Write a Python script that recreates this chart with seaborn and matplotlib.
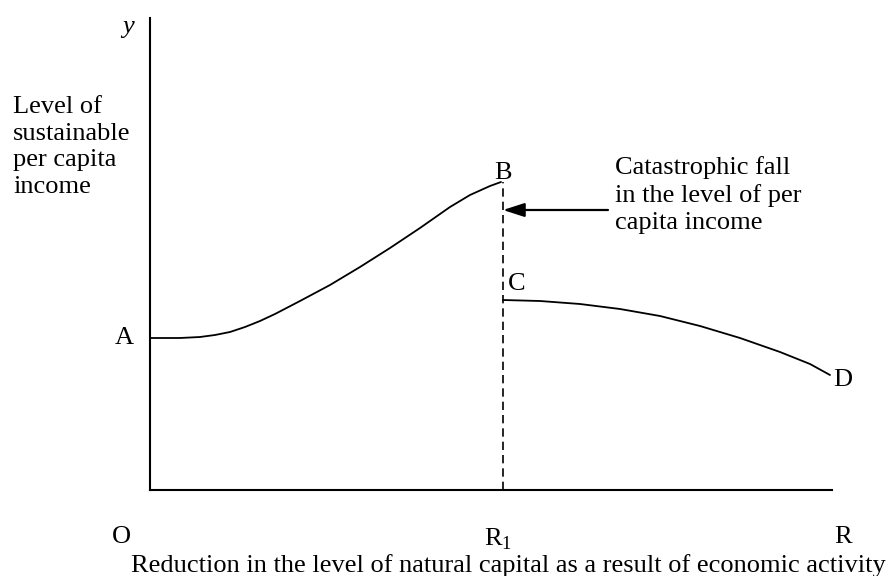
import matplotlib
matplotlib.use("Agg")
import matplotlib.pyplot as plt
import seaborn as sns
import pandas as pd

# curve A -> B (before the threshold R1)
x_ab = [0, 30, 50, 65, 80, 95, 110, 125, 150, 180, 210, 240, 270, 300, 320, 340, 351]
y_ab = [152, 152, 153, 155, 158, 163, 169, 176, 189, 205, 223, 242, 262, 283, 295, 304, 308]

# curve C -> D (after the catastrophic fall)
x_cd = [353, 390, 430, 470, 510, 550, 590, 630, 660, 680]
y_cd = [190, 189, 186, 181, 174, 164, 152, 138, 126, 115]

r1 = 353
arrow_y = 280
arrow_start = 458

df = pd.concat([
    pd.DataFrame({"x": x_ab, "y": y_ab, "seg": "AB"}),
    pd.DataFrame({"x": x_cd, "y": y_cd, "seg": "CD"}),
])

sns.set_style("white")
plt.rcParams['font.family'] = ['Liberation Serif', 'DejaVu Serif']
plt.rcParams['mathtext.fontset'] = 'custom'
plt.rcParams['mathtext.rm'] = 'Liberation Serif'

W, H = 896, 576
fig = plt.figure(figsize=(W / 100, H / 100), dpi=100)
ax = fig.add_axes([150 / W, 86 / H, 682 / W, 472 / H])

sns.lineplot(data=df, x="x", y="y", units="seg", estimator=None,
             color="black", linewidth=1.3, ax=ax, sort=False)

ax.plot([r1, r1], [0, y_ab[-1]], color="black", linestyle=(0, (5, 3)), linewidth=1.2)
ax.annotate("", xy=(r1, arrow_y), xytext=(arrow_start, arrow_y),
            arrowprops=dict(arrowstyle="-|>,head_length=1.3,head_width=0.42",
                            mutation_scale=10, shrinkA=0, shrinkB=0,
                            color="black", lw=1.6))

ax.set_xlim(0, 682)
ax.set_ylim(0, 472)
ax.set_xticks([])
ax.set_yticks([])
ax.set_xlabel("")
ax.set_ylabel("")
for s in ["top", "right"]:
    ax.spines[s].set_visible(False)
for s in ["left", "bottom"]:
    ax.spines[s].set_color("black")
    ax.spines[s].set_linewidth(1.5)


def label(px, py, txt, **kw):
    fig.text(px / W, 1 - py / H, txt, fontsize=19, color="black", **kw)


label(128, 27, "y", style="italic", ha="center", va="center")
label(13, 96, "Level of\nsustainable\nper capita\nincome", ha="left", va="top", linespacing=1.27)
label(124, 338, "A", ha="center", va="center")
label(503, 173, "B", ha="center", va="center")
label(517, 284, "C", ha="center", va="center")
label(843, 380, "D", ha="center", va="center")
label(615, 156, "Catastrophic fall\nin the level of per\ncapita income", ha="left", va="top",
      linespacing=1.3)
label(121, 537, "O", ha="center", va="center")
label(484, 539, r"R$_\mathregular{1}$", ha="left", va="center")
label(843, 537, "R", ha="center", va="center")
label(508, 566, "Reduction in the level of natural capital as a result of economic activity",
      ha="center", va="center")

plt.savefig("out.png", dpi=100)
